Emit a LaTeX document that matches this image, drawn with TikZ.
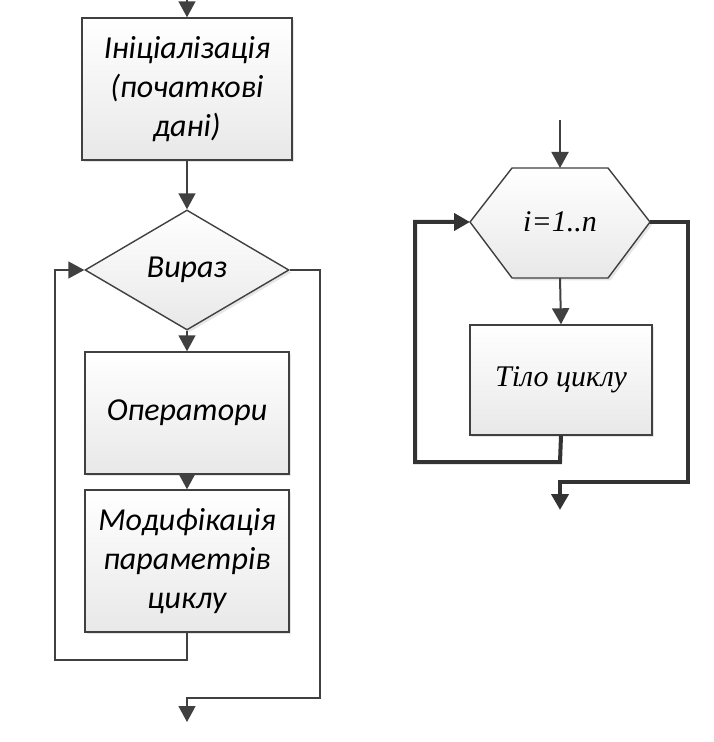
\documentclass[tikz,border=0pt]{standalone}
\usepackage{fontspec}
\setmainfont{Carlito}
\newfontfamily\timesfont{Liberation Serif}
\usetikzlibrary{shapes.geometric,arrows.meta,shadows}
\tikzset{
  blockbox/.style={draw=black!75, line width=0.7pt, top color=white, bottom color=black!9,
    drop shadow={shadow xshift=1.2pt, shadow yshift=-1.2pt, opacity=0.2},
    align=center, font=\fontsize{16}{19.5}\selectfont\itshape},
  flow/.style={draw=black!75, line width=0.75pt, -{Triangle[length=8pt,width=8.5pt]}},
  boldflow/.style={draw=black!80, line width=2pt, -{Triangle[length=8pt,width=8.5pt]}},
}
\begin{document}
\begin{tikzpicture}[x=0.5pt,y=-0.5pt]
  \useasboundingbox (0,0) rectangle (713,742);
  % Ліва схема
  \coordinate (start1) at (187,0);
  \node[blockbox, minimum width=105pt, minimum height=71pt] (init) at (187,89)
    {Ініціалізація\\(початкові\\дані)};
  \node[blockbox, diamond, aspect=1.7, minimum width=102pt, minimum height=60pt, inner sep=0pt] (cond) at (187,270) {Вираз};
  \node[blockbox, minimum width=102pt, minimum height=61pt] (ops) at (187,413) {Оператори};
  \node[blockbox, minimum width=102pt, minimum height=71pt] (mod) at (187,561)
    {Модифікація\\параметрів\\циклу};
  \coordinate (end1) at (187,722);
  \draw[flow] (start1) -- (init.north);
  \draw[flow] (init.south) -- (cond.north);
  \draw[flow] (cond.south) -- (ops.north);
  \draw[flow] (ops.south) -- (mod.north);
  \draw[flow] (mod.south) -- (187,660) -- (55,660) -- (55,270) -- (cond.west);
  \draw[flow] (cond.east) -- (320,270) -- (320,698) -- (187,698) -- (end1);
  % Права схема
  \coordinate (start2) at (560,120);
  \draw[blockbox] (470,222) -- (512,168) -- (608,168) -- (650,222) -- (608,278) -- (512,278) -- cycle;
  \node[font=\timesfont\fontsize{15}{17}\selectfont\itshape] (loop) at (560,222) {i=1..n};
  \coordinate (loopN) at (560,168);
  \coordinate (loopS) at (560,278);
  \coordinate (loopW) at (470,222);
  \coordinate (loopE) at (650,222);
  \node[blockbox, font=\timesfont\fontsize{15}{17}\selectfont\itshape, minimum width=91pt, minimum height=55pt] (body) at (561,380) {Тіло циклу};
  \coordinate (end2) at (560,510);
  \draw[flow, line width=1pt] (start2) -- (loopN);
  \draw[flow, line width=1pt] (loopS) -- (body.north);
  \draw[boldflow] (body.south) -- (560,462) -- (415,462) -- (415,222) -- (loopW);
  \draw[boldflow] (loopE) -- (688,222) -- (688,482) -- (560,482) -- (end2);
\end{tikzpicture}
\end{document}
